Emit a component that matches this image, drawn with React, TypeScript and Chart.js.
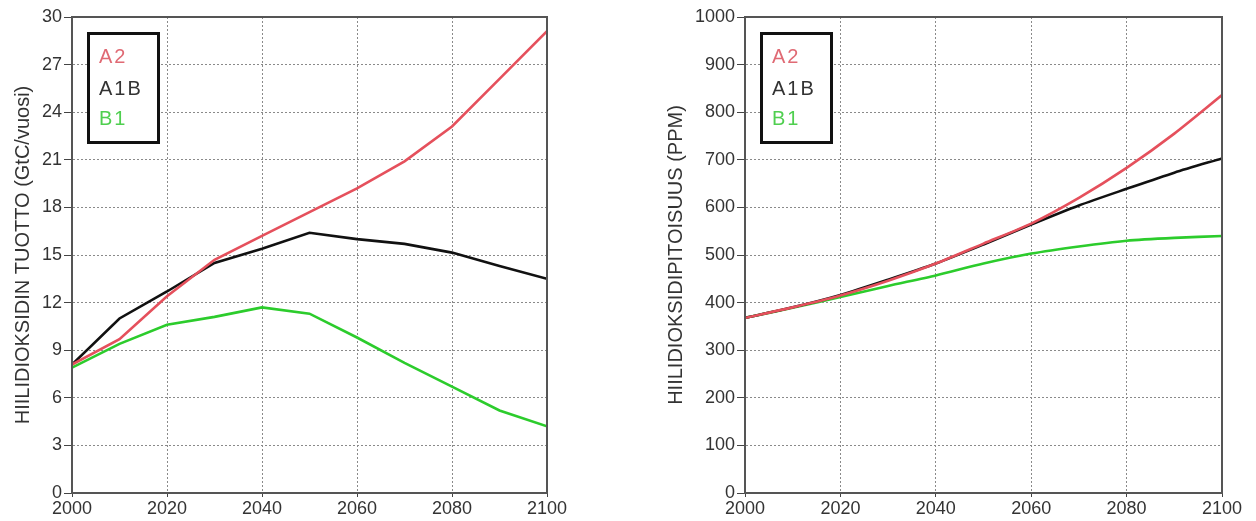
import React, { useEffect, useRef } from "react";
import { Chart, registerables } from "chart.js";

Chart.register(...registerables);

// ---- data ----
const years = [2000, 2010, 2020, 2030, 2040, 2050, 2060, 2070, 2080, 2090, 2100];

const emissionsA2 = [8.1, 9.7, 12.4, 14.7, 16.2, 17.7, 19.2, 20.9, 23.1, 26.1, 29.1];
const emissionsA1B = [8.1, 11.0, 12.7, 14.5, 15.4, 16.4, 16.0, 15.7, 15.15, 14.3, 13.5];
const emissionsB1 = [7.9, 9.4, 10.6, 11.1, 11.7, 11.3, 9.8, 8.2, 6.7, 5.2, 4.2];

const concA2 = [368, 390, 415, 446, 482, 524, 566, 620, 683, 755, 836];
const concA1B = [368, 390, 416, 448, 482, 522, 564, 604, 639, 673, 703];
const concB1 = [368, 389, 412, 435, 457, 482, 503, 518, 530, 536, 540];

const yearTicks = [2000, 2020, 2040, 2060, 2080, 2100];
const emissionTicks = [0, 3, 6, 9, 12, 15, 18, 21, 24, 27, 30];
const concTicks = [0, 100, 200, 300, 400, 500, 600, 700, 800, 900, 1000];

const seriesNames = ["A2", "A1B", "B1"];
const lineColors = ["#e5505c", "#111111", "#2ccc2c"];
const legendColors = ["#e06a74", "#333333", "#4fcf4f"];

const leftTitle = "HIILIDIOKSIDIN TUOTTO (GtC/vuosi)";
const rightTitle = "HIILIDIOKSIDIPITOISUUS (PPM)";

const FONT = "'Liberation Sans', Arial, sans-serif";

const framePlugin = {
  id: "frameAndLegend",
  afterDraw(chart: any) {
    const { ctx, chartArea } = chart;
    const { left, top, right, bottom } = chartArea;
    ctx.save();
    // frame
    ctx.strokeStyle = "#555555";
    ctx.lineWidth = 2;
    ctx.setLineDash([]);
    ctx.strokeRect(left, top, right - left, bottom - top);
    // legend box
    const bx = left + 16.5;
    const by = top + 16.5;
    ctx.fillStyle = "#ffffff";
    ctx.fillRect(bx, by, 70, 109);
    ctx.strokeStyle = "#111111";
    ctx.lineWidth = 3;
    ctx.strokeRect(bx, by, 70, 109);
    ctx.font = `20px ${FONT}`;
    (ctx as any).letterSpacing = "2px";
    ctx.textAlign = "left";
    ctx.textBaseline = "alphabetic";
    const offs = [46, 78, 108];
    seriesNames.forEach((n, i) => {
      ctx.fillStyle = legendColors[i];
      ctx.fillText(n, left + 27, top + offs[i]);
    });
    ctx.restore();
  },
};

function makeConfig(
  series: number[][],
  yTicks: number[],
  title: string,
  padLeft: number,
  padRight: number,
  yWidth: number,
  titlePad: number,
  tension: number
) {
  return {
    type: "line",
    data: {
      datasets: series.map((vals, i) => ({
        label: seriesNames[i],
        data: years.map((y, j) => ({ x: y, y: vals[j] })),
        borderColor: lineColors[i],
        backgroundColor: lineColors[i],
        borderWidth: 2.6,
        pointRadius: 0,
        tension,
        fill: false,
      })),
    },
    options: {
      animation: false,
      responsive: false,
      maintainAspectRatio: false,
      layout: { padding: { left: padLeft, right: padRight, top: 17, bottom: 0 } },
      plugins: { legend: { display: false }, tooltip: { enabled: false } },
      scales: {
        x: {
          type: "linear",
          min: yearTicks[0],
          max: yearTicks[yearTicks.length - 1],
          afterBuildTicks: (s: any) => {
            s.ticks = yearTicks.map((v) => ({ value: v }));
          },
          afterFit: (s: any) => {
            s.height = 28;
          },
          grid: {
            color: "#8a8a8a",
            lineWidth: 1,
            borderDash: [2, 2],
            tickLength: 4,
            tickColor: "#444444",
            tickBorderDash: [],
          },
          border: { display: true, color: "#555555", width: 2, dash: [2, 2] },
          ticks: {
            color: "#333333",
            font: { family: FONT, size: 18 },
            padding: 1,
            maxRotation: 0,
            autoSkip: false,
            callback: (v: any) => String(v),
          },
        },
        y: {
          type: "linear",
          min: yTicks[0],
          max: yTicks[yTicks.length - 1],
          afterBuildTicks: (s: any) => {
            s.ticks = yTicks.map((v) => ({ value: v }));
          },
          afterFit: (s: any) => {
            s.width = yWidth;
          },
          grid: {
            color: "#8a8a8a",
            lineWidth: 1,
            borderDash: [2, 2],
            tickLength: 8,
            tickColor: "#444444",
            tickBorderDash: [],
          },
          border: { display: true, color: "#555555", width: 2, dash: [2, 2] },
          ticks: {
            color: "#333333",
            font: { family: FONT, size: 18 },
            padding: 2,
            autoSkip: false,
            callback: (v: any) => String(v),
          },
          title: {
            display: true,
            text: title,
            color: "#333333",
            font: { family: FONT, size: 20 },
            padding: { top: titlePad, bottom: 0 },
          },
        },
      },
    },
    plugins: [framePlugin],
  } as any;
}

function ChartCanvas(props: { config: () => any; left: number }) {
  const ref = useRef<HTMLCanvasElement | null>(null);
  useEffect(() => {
    if (!ref.current) return;
    const chart = new Chart(ref.current, props.config());
    return () => chart.destroy();
  }, []);
  return (
    <canvas
      ref={ref}
      width={628}
      height={521}
      style={{ position: "absolute", left: props.left, top: 0, width: 628, height: 521 }}
    />
  );
}

export default function App() {
  return (
    <div
      style={{
        position: "fixed",
        left: 0,
        top: 0,
        width: 1256,
        height: 521,
        background: "#ffffff",
        overflow: "hidden",
      }}
    >
      <ChartCanvas
        left={0}
        config={() =>
          makeConfig([emissionsA2, emissionsA1B, emissionsB1], emissionTicks, leftTitle, 0, 81, 72, 11, 0)
        }
      />
      <ChartCanvas
        left={628}
        config={() =>
          makeConfig([concA2, concA1B, concB1], concTicks, rightTitle, 28, 34, 89, 8, 0.25)
        }
      />
    </div>
  );
}
